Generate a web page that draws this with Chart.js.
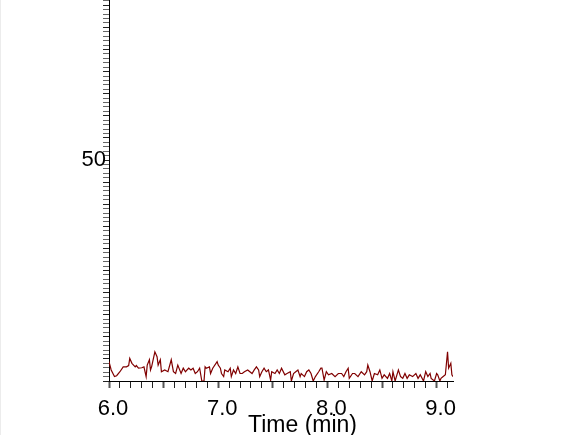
<!DOCTYPE html>
<html>
<head>
<meta charset="utf-8">
<script src="https://cdn.jsdelivr.net/npm/chart.js"></script>
<style>
  body { margin: 0; background: #fff; }
  #wrap { position: relative; width: 579px; height: 435px; }
  #edge { position: absolute; left: 0; top: 0; width: 1px; height: 435px; background: #ececec; }
  #xtitle { position: absolute; left: 248px; top: 413px; font: 23px "Liberation Sans", Arial, sans-serif; line-height: 1; color: #000; white-space: nowrap; }
</style>
</head>
<body>
<div id="wrap">
  <canvas id="chart" width="579" height="435"></canvas>
  <div id="edge"></div>
  <div id="xtitle">Time (min)</div>
</div>
<script>
// retention time (min)
const times = [
  6.00, 6.02, 6.05, 6.07, 6.10, 6.13, 6.16, 6.18, 6.19, 6.21,
  6.24, 6.25, 6.27, 6.30, 6.32, 6.34, 6.35, 6.37, 6.38, 6.39,
  6.42, 6.44, 6.45, 6.47, 6.48, 6.51, 6.54, 6.57, 6.59, 6.61,
  6.63, 6.66, 6.68, 6.70, 6.73, 6.75, 6.77, 6.79, 6.81, 6.83,
  6.85, 6.87, 6.88, 6.89, 6.92, 6.93, 6.95, 6.99, 7.00, 7.02,
  7.03, 7.05, 7.06, 7.09, 7.11, 7.12, 7.14, 7.16, 7.18, 7.20,
  7.22, 7.24, 7.27, 7.31, 7.33, 7.35, 7.37, 7.38, 7.40, 7.42,
  7.44, 7.46, 7.48, 7.49, 7.52, 7.54, 7.56, 7.58, 7.61, 7.63,
  7.66, 7.67, 7.69, 7.71, 7.73, 7.75, 7.76, 7.79, 7.81, 7.83,
  7.85, 7.87, 7.89, 7.92, 7.94, 7.95, 7.97, 7.99, 8.01, 8.04,
  8.07, 8.10, 8.13, 8.15, 8.17, 8.19, 8.20, 8.23, 8.25, 8.28,
  8.31, 8.34, 8.36, 8.37, 8.39, 8.41, 8.43, 8.46, 8.48, 8.50,
  8.52, 8.55, 8.57, 8.59, 8.60, 8.62, 8.65, 8.67, 8.69, 8.71,
  8.73, 8.75, 8.78, 8.81, 8.83, 8.85, 8.88, 8.90, 8.92, 8.94,
  8.95, 8.98, 9.00, 9.01, 9.03, 9.04, 9.06, 9.08, 9.10, 9.11,
  9.13, 9.14, 9.15
];

// detector signal
const signal = [
  4.4, 2.5, 1.0, 1.2, 2.1, 3.2, 3.2, 3.5, 5.1, 4.0,
  3.2, 3.5, 2.9, 3.0, 3.2, 1.0, 3.6, 4.8, 2.5, 3.2,
  6.6, 5.5, 3.6, 4.8, 2.1, 2.5, 2.1, 4.8, 2.1, 1.7,
  3.6, 1.7, 2.9, 2.1, 2.9, 2.5, 2.9, 1.7, 2.1, 2.9,
  0.0, 0.0, 3.2, 2.9, 3.2, 1.7, 2.9, 4.4, 3.6, 2.9,
  1.7, 1.0, 2.5, 2.1, 2.9, 1.0, 2.5, 1.7, 3.2, 1.7,
  1.7, 2.1, 2.5, 1.7, 2.5, 3.2, 2.5, 1.0, 2.1, 2.9,
  2.1, 2.5, 0.2, 2.1, 1.7, 2.5, 1.7, 2.9, 1.4, 1.7,
  2.1, 0.0, 1.7, 2.1, 2.5, 1.0, 1.7, 1.0, 2.1, 2.5,
  1.7, 0.0, 1.0, 2.1, 2.9, 2.9, 0.2, 2.1, 1.4, 1.7,
  1.0, 1.7, 1.7, 1.0, 2.1, 2.9, 0.6, 1.7, 1.7, 1.0,
  2.1, 1.4, 2.1, 3.6, 2.1, 0.0, 1.7, 1.4, 2.5, 0.6,
  1.4, 0.6, 1.7, 0.0, 2.1, 0.0, 2.5, 1.0, 0.6, 1.7,
  0.6, 1.4, 1.0, 1.7, 0.6, 1.4, 0.0, 2.1, 1.0, 1.7,
  0.6, 0.0, 1.7, 1.4, 0.0, 0.6, 1.0, 1.4, 6.6, 2.9,
  4.0, 1.4, 1.0
];

const xLabels = [6, 7, 8, 9];
const yLabels = [50];

const xMin = 6.0, xMax = 9.15;
const yMin = 0, yMax = 86.2;

const font = { family: '"Liberation Sans", Arial, sans-serif', size: 22 };

new Chart(document.getElementById('chart'), {
  type: 'line',
  data: {
    datasets: [{
      data: times.map((t, i) => ({ x: t, y: signal[i] })),
      borderColor: '#800000',
      borderWidth: 1.2,
      pointRadius: 0,
      tension: 0,
      fill: false
    }]
  },
  options: {
    responsive: false,
    animation: false,
    layout: { padding: { left: 0, right: 126, top: 0, bottom: 0 } },
    plugins: { legend: { display: false }, tooltip: { enabled: false } },
    scales: {
      x: {
        type: 'linear',
        min: xMin,
        max: xMax,
        afterFit: s => { s.height = 54; s.paddingLeft = 0; s.paddingRight = 0; },
        border: { color: '#000', width: 1 },
        grid: {
          drawOnChartArea: false,
          tickLength: 7,
          tickColor: c => Math.abs(c.tick.value * 2 - Math.round(c.tick.value * 2)) < 1e-6 ? '#555' : '#222',
          tickWidth: c => Math.abs(c.tick.value * 2 - Math.round(c.tick.value * 2)) < 1e-6 ? 2 : 1
        },
        ticks: {
          stepSize: 0.1,
          includeBounds: false,
          autoSkip: false,
          maxRotation: 0,
          padding: 8,
          labelOffset: 4,
          color: '#000',
          font: font,
          callback: v => xLabels.some(l => Math.abs(l - v) < 1e-6) ? v.toFixed(1) : ''
        }
      },
      y: {
        min: yMin,
        max: yMax,
        afterFit: s => { s.width = 109; s.paddingTop = 0; s.paddingBottom = 0; },
        border: { color: '#000', width: 1 },
        grid: {
          drawOnChartArea: false,
          tickLength: 6,
          tickColor: c => c.tick.value % 5 === 0 ? '#222' : '#666'
        },
        ticks: {
          stepSize: 1,
          includeBounds: false,
          autoSkip: false,
          padding: -3,
          color: '#000',
          font: font,
          callback: v => yLabels.includes(v) ? String(v) : ''
        }
      }
    }
  }
});
</script>
</body>
</html>
